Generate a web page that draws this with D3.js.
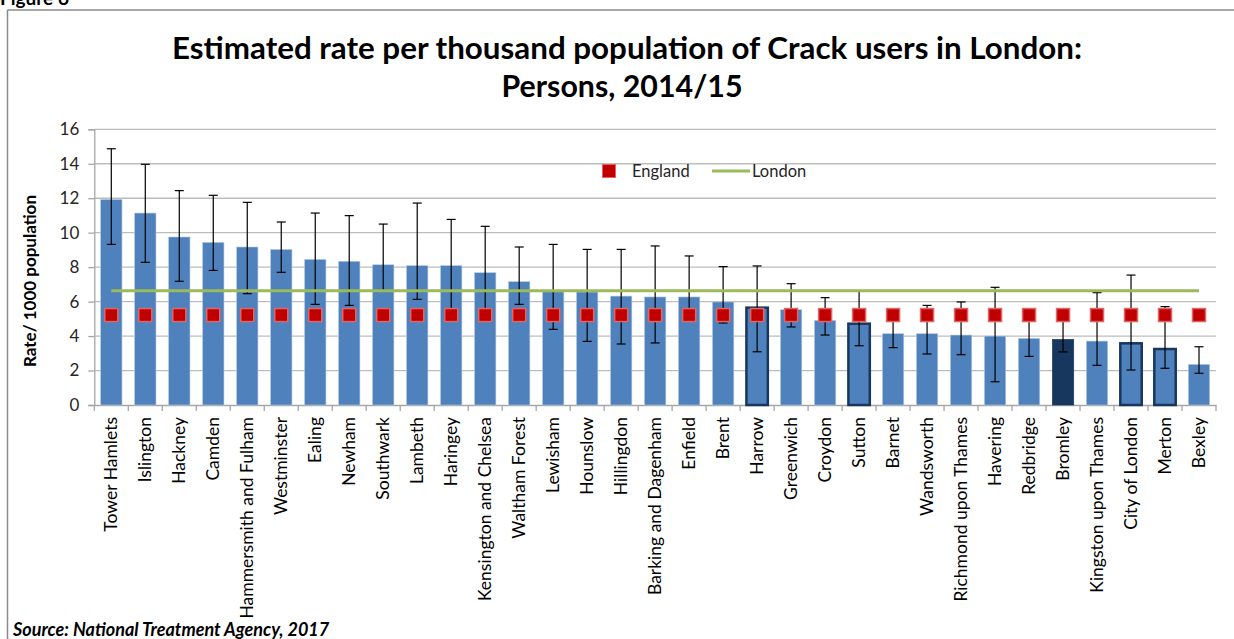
<!DOCTYPE html>
<html>
<head>
<meta charset="utf-8">
<script src="https://cdn.jsdelivr.net/npm/d3@7"></script>
<style>
  html, body { margin: 0; padding: 0; background: #fff; }
  svg { display: block; }
  text { font-family: Lato, "Open Sans", sans-serif; }
</style>
</head>
<body>
<svg id="chart" width="1234" height="639"></svg>
<script>
const boroughs = ["Tower Hamlets","Islington","Hackney","Camden","Hammersmith and Fulham","Westminster","Ealing","Newham","Southwark","Lambeth","Haringey","Kensington and Chelsea","Waltham Forest","Lewisham","Hounslow","Hillingdon","Barking and Dagenham","Enfield","Brent","Harrow","Greenwich","Croydon","Sutton","Barnet","Wandsworth","Richmond upon Thames","Havering","Redbridge","Bromley","Kingston upon Thames","City of London","Merton","Bexley"];
const rates = [11.93,11.14,9.75,9.44,9.17,9.03,8.45,8.34,8.14,8.09,8.09,7.68,7.16,6.57,6.56,6.32,6.27,6.27,5.98,5.65,5.53,4.91,4.72,4.14,4.14,4.06,4.00,3.87,3.81,3.71,3.58,3.25,2.36];
const upperCI = [14.87,13.97,12.44,12.17,11.76,10.62,11.14,10.99,10.50,11.72,10.77,10.37,9.17,9.32,9.03,9.03,9.23,8.65,8.03,8.07,7.04,6.23,6.60,5.20,5.78,5.98,6.83,5.10,5.00,6.52,7.54,5.71,3.38];
const lowerCI = [9.32,8.28,7.18,7.81,6.46,7.70,5.84,5.78,6.65,6.13,5.40,5.30,5.84,4.39,3.69,3.54,3.60,5.00,4.76,3.09,4.53,4.06,3.44,3.33,2.96,2.92,1.35,2.82,3.08,2.30,2.03,2.13,1.84];
const englandRate = 5.22;
const londonRate = 6.63;
const outlinedBoroughs = ["Harrow","Sutton","City of London","Merton"];
const darkBoroughs = ["Bromley"];
const yTicks = [0,2,4,6,8,10,12,14,16];
const titleLines = ["Estimated rate per thousand population of Crack users in London:", "Persons, 2014/15"];
const yTitle = "Rate/ 1000 population";
const legendLabels = ["England", "London"];
const sourceText = "Source: National Treatment Agency, 2017";
const figureLabel = "Figure 6";

const svg = d3.select("#chart");
const pLeft = 94.3, pRight = 1216, pTop = 129.3, pBottom = 405;

const x = d3.scaleBand().domain(boroughs).range([pLeft, pRight]).paddingInner(0.37).paddingOuter(0.185);
const y = d3.scaleLinear().domain([0, 16]).range([pBottom, pTop]);

// frame
svg.append("line").attr("x1", 7.5).attr("x2", 1234).attr("y1", 10).attr("y2", 10).attr("stroke", "#8a8a8a").attr("stroke-width", 1.5);
svg.append("line").attr("x1", 7.5).attr("x2", 7.5).attr("y1", 10).attr("y2", 639).attr("stroke", "#8a8a8a").attr("stroke-width", 1.5);

svg.append("text").attr("x", 0).attr("y", 5).attr("font-size", 19).attr("font-weight", "bold").text(figureLabel);

// title
svg.append("text").attr("x", 627).attr("y", 59).attr("text-anchor", "middle")
  .attr("font-size", 31).attr("font-weight", "bold").attr("fill", "#000")
  .attr("textLength", 910).attr("lengthAdjust", "spacingAndGlyphs").text(titleLines[0]);
svg.append("text").attr("x", 622).attr("y", 97).attr("text-anchor", "middle")
  .attr("font-size", 31).attr("font-weight", "bold").attr("fill", "#000")
  .attr("textLength", 241).attr("lengthAdjust", "spacingAndGlyphs").text(titleLines[1]);

// gridlines
svg.append("g").selectAll("line").data(yTicks.filter(d => d > 0)).join("line")
  .attr("x1", pLeft).attr("x2", pRight).attr("y1", d => y(d)).attr("y2", d => y(d))
  .attr("stroke", "#bdbdbd").attr("stroke-width", 1.3);

// y axis
const yAxis = d3.axisLeft(y).tickValues(yTicks).tickSize(6).tickPadding(9).tickFormat(d3.format("d"));
const gy = svg.append("g").attr("transform", `translate(${pLeft},0)`).call(yAxis);
gy.select(".domain").attr("stroke", "#a6a6a6").attr("stroke-width", 1.3);
gy.selectAll(".tick line").attr("stroke", "#a6a6a6").attr("stroke-width", 1.3);
gy.selectAll(".tick text").attr("font-size", 17).attr("fill", "#262626").attr("font-family", "Lato, sans-serif");

// x axis
const xAxis = d3.axisBottom(x).tickSize(0).tickFormat("");
const gx = svg.append("g").attr("transform", `translate(0,${pBottom})`).call(xAxis);
gx.select(".domain").attr("stroke", "#a6a6a6").attr("stroke-width", 1.3);
const seps = boroughs.map((b) => x(b) - x.step() * x.paddingInner() / 2).concat([pRight]);
svg.append("g").selectAll("line").data(seps).join("line")
  .attr("x1", d => d).attr("x2", d => d).attr("y1", pBottom).attr("y2", pBottom + 6)
  .attr("stroke", "#a6a6a6").attr("stroke-width", 1.3);

svg.append("g").selectAll("text").data(boroughs).join("text")
  .attr("transform", d => `translate(${x(d) + x.bandwidth() / 2},${pBottom + 12}) rotate(-90)`)
  .attr("text-anchor", "end").attr("dy", "0.35em")
  .attr("font-size", 17.5).attr("fill", "#000").text(d => d);

// bars
const data = boroughs.map((b, i) => ({ b, v: rates[i], lo: lowerCI[i], hi: upperCI[i] }));
svg.append("g").selectAll("rect").data(data).join("rect")
  .attr("x", d => x(d.b)).attr("width", x.bandwidth())
  .attr("y", d => y(d.v)).attr("height", d => y(0) - y(d.v))
  .attr("fill", d => darkBoroughs.includes(d.b) ? "#17375e" : "#4f81bd")
  .attr("stroke", d => (outlinedBoroughs.includes(d.b) || darkBoroughs.includes(d.b)) ? "#17375e" : "#b9cde5")
  .attr("stroke-width", d => outlinedBoroughs.includes(d.b) ? 2.5 : 0.6);

// error bars
const eg = svg.append("g").attr("stroke", "#000").attr("stroke-width", 1.2);
data.forEach(d => {
  const cx = x(d.b) + x.bandwidth() / 2;
  eg.append("line").attr("x1", cx).attr("x2", cx).attr("y1", y(d.hi)).attr("y2", y(d.lo));
  eg.append("line").attr("x1", cx - 4.5).attr("x2", cx + 4.5).attr("y1", y(d.hi)).attr("y2", y(d.hi));
  eg.append("line").attr("x1", cx - 4.5).attr("x2", cx + 4.5).attr("y1", y(d.lo)).attr("y2", y(d.lo));
});

// London line
const first = boroughs[0], last = boroughs[boroughs.length - 1];
svg.append("line")
  .attr("x1", x(first) + x.bandwidth() / 2).attr("x2", x(last) + x.bandwidth() / 2)
  .attr("y1", y(londonRate)).attr("y2", y(londonRate))
  .attr("stroke", "#9bbb59").attr("stroke-width", 3.2);

// England markers
const ms = 13;
svg.append("g").selectAll("rect").data(boroughs).join("rect")
  .attr("x", d => x(d) + x.bandwidth() / 2 - ms / 2).attr("y", y(englandRate) - ms / 2)
  .attr("width", ms).attr("height", ms)
  .attr("fill", "#c00000").attr("stroke", "#e06666").attr("stroke-width", 1.5);

// legend
svg.append("rect").attr("x", 602.5).attr("y", 164.5).attr("width", 13).attr("height", 13)
  .attr("fill", "#c00000").attr("stroke", "#e06666").attr("stroke-width", 1);
svg.append("text").attr("x", 632).attr("y", 177).attr("font-size", 16.5).attr("fill", "#262626").text(legendLabels[0]);
svg.append("line").attr("x1", 712).attr("x2", 750).attr("y1", 171).attr("y2", 171).attr("stroke", "#9bbb59").attr("stroke-width", 3.2);
svg.append("text").attr("x", 752).attr("y", 177).attr("font-size", 16.5).attr("fill", "#262626").text(legendLabels[1]);

// y title
svg.append("text").attr("transform", "translate(36,281) rotate(-90)").attr("text-anchor", "middle")
  .attr("font-size", 17).attr("font-weight", "bold").text(yTitle);

// source
svg.append("text").attr("x", 13).attr("y", 636).attr("font-size", 18).attr("font-weight", "bold")
  .attr("font-style", "italic").text(sourceText);
</script>
</body>
</html>
